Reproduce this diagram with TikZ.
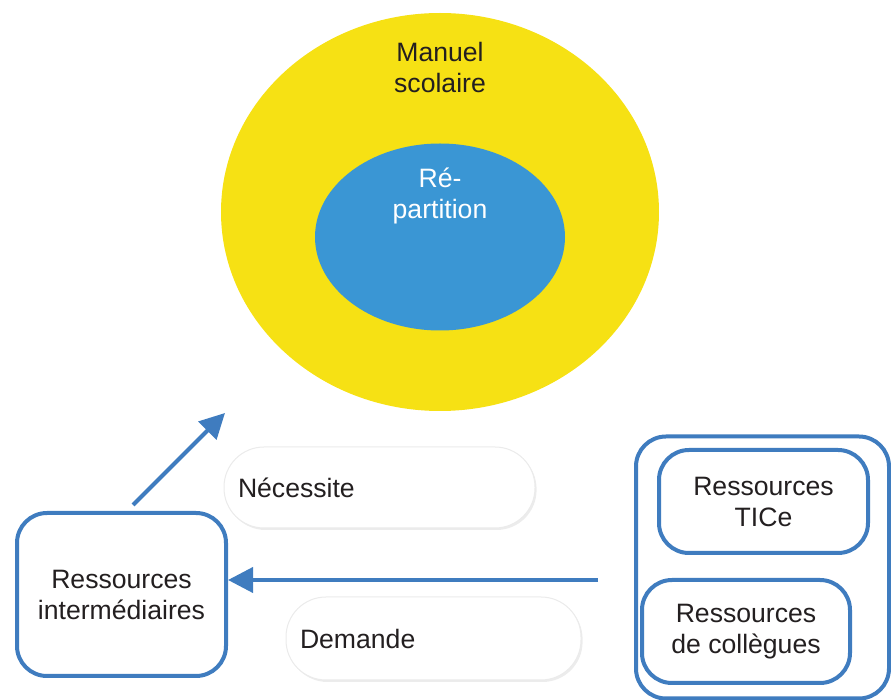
\documentclass[tikz,border=0pt]{standalone}
\usepackage{fontspec}
\setmainfont{Liberation Sans}
\usepackage{xcolor}
\usetikzlibrary{arrows.meta,shapes.geometric,shadows}
\definecolor{bordblue}{RGB}{63,124,191}
\definecolor{fillblue}{RGB}{58,150,212}
\definecolor{sunyellow}{RGB}{246,225,20}
\definecolor{inkgray}{RGB}{35,31,32}
\tikzset{
	box/.style={draw=bordblue, line width=2pt, rounded corners=15pt, fill=white,
		align=center, text=inkgray, inner sep=0pt},
	pill/.style={draw=black!8, line width=0.5pt, fill=white, rounded corners=20pt,
		align=left, text=inkgray, inner xsep=7pt, inner ysep=0pt,
		drop shadow={shadow xshift=0.8pt, shadow yshift=-1pt, opacity=0.15}},
	blob/.style={ellipse, inner sep=0pt, outer sep=0pt},
	txt/.style={align=center, text=inkgray},
	flow/.style={draw=bordblue, line width=2pt, -{Triangle[length=12.5pt,width=12.5pt]}},
}

\begin{document}
\begin{tikzpicture}[x=0.5pt, y=-0.5pt, font=\fontsize{13.3}{15.5}\selectfont]
	\useasboundingbox (0,0) rectangle (891,700);
	% ellipses
	\node[blob, fill=sunyellow, minimum width=219pt, minimum height=199pt] at (440,212) (manuel) {};
	\node[blob, fill=fillblue, minimum width=125pt, minimum height=93.5pt] at (440,237) (repart) {};
	\node[txt] at (440,67) (manuel-t) {Manuel\\scolaire};
	\node[txt, text=white] at (440,195.5) (repart-t) {Ré-\\partition};
	% white labels
	\node[pill, minimum width=155.5pt, minimum height=40.5pt, text width=141.5pt] at (379.5,487.5) (nec) {Nécessite};
	\node[pill, minimum width=146.5pt, minimum height=41.5pt, text width=133.5pt] at (433.5,638.5) (dem) {Demande};
	% resources
	\node[box, minimum width=104.5pt, minimum height=81.5pt] at (121.5,594.5) (interm) {Ressources\\intermédiaires};
	\node[box, minimum width=126.5pt, minimum height=131pt] at (762.5,567.5) (grp) {};
	\node[box, minimum width=104.5pt, minimum height=51.5pt] at (763.5,501.5) (tice) {Ressources\\TICe};
	\node[box, minimum width=104pt, minimum height=51.5pt] at (746,631.5) (coll) {Ressources\\de collègues};
	% arrows
	\coordinate (up) at (225,413);
	\coordinate (src) at (598,580);
	\draw[flow] ([xshift=5.75pt,yshift=3pt]interm.north) -- (up);
	\draw[flow] (src) -- (src -| interm.east);
\end{tikzpicture}
\end{document}
